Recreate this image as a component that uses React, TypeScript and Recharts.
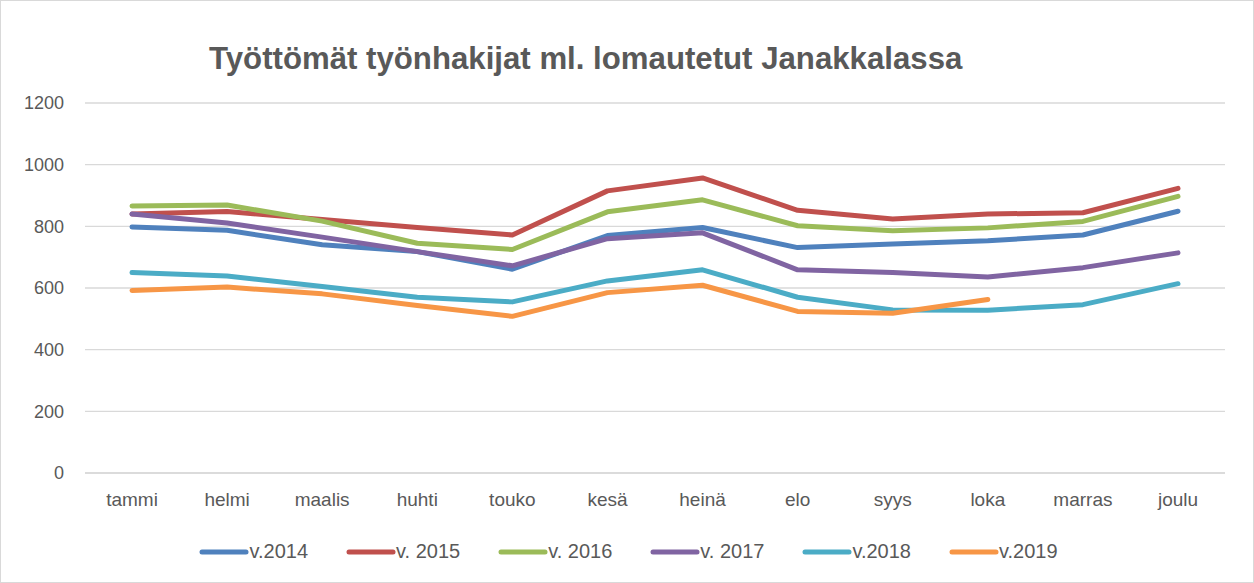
import React from 'react';
import { LineChart, Line, XAxis, YAxis, CartesianGrid, Legend } from 'recharts';

const months = ['tammi', 'helmi', 'maalis', 'huhti', 'touko', 'kesä', 'heinä', 'elo', 'syys', 'loka', 'marras', 'joulu'];

const y2014 = [798, 787, 740, 718, 661, 770, 796, 731, 743, 753, 772, 849];
const y2015 = [840, 848, 822, 796, 772, 915, 957, 852, 824, 840, 844, 923];
const y2016 = [866, 869, 817, 745, 725, 847, 886, 802, 786, 795, 816, 897];
const y2017 = [840, 811, 765, 718, 672, 760, 779, 659, 650, 636, 666, 714];
const y2018 = [650, 639, 605, 570, 555, 623, 659, 570, 529, 528, 546, 614];
const y2019 = [592, 603, 581, 543, 508, 585, 609, 524, 518, 563, null, null];

const yTicks = [0, 200, 400, 600, 800, 1000, 1200];

const series = [
  { key: 'v2014', name: 'v.2014', color: '#4F81BD', values: y2014 },
  { key: 'v2015', name: 'v. 2015', color: '#C0504D', values: y2015 },
  { key: 'v2016', name: 'v. 2016', color: '#9BBB59', values: y2016 },
  { key: 'v2017', name: 'v. 2017', color: '#8064A2', values: y2017 },
  { key: 'v2018', name: 'v.2018', color: '#4BACC6', values: y2018 },
  { key: 'v2019', name: 'v.2019', color: '#F79646', values: y2019 },
];

const data = months.map((m, i) => {
  const row: { [k: string]: string | number | null } = { month: m };
  series.forEach((s) => {
    row[s.key] = s.values[i];
  });
  return row;
});

const FONT = '"Liberation Sans", Arial, sans-serif';
const TEXT = '#595959';

const LegendContent = () => (
  <div style={{ display: 'flex', justifyContent: 'center', paddingLeft: 70 }}>
    {series.map((s) => (
      <div key={s.key} style={{ display: 'flex', alignItems: 'center', marginRight: 38 }}>
        <svg width={50} height={8}>
          <line x1={3} y1={4} x2={47} y2={4} stroke={s.color} strokeWidth={5} strokeLinecap="round" />
        </svg>
        <span style={{ fontFamily: FONT, fontSize: 20, color: TEXT }}>{s.name}</span>
      </div>
    ))}
  </div>
);

export default function App() {
  return (
    <div
      style={{
        position: 'absolute',
        left: 0,
        top: 0,
        width: 1254,
        height: 583,
        boxSizing: 'border-box',
        border: '1px solid #d9d9d9',
        background: '#fff',
      }}
    >
      <div
        style={{
          position: 'absolute',
          left: 208,
          top: 40,
          fontFamily: FONT,
          fontWeight: 'bold',
          fontSize: 31.2,
          color: TEXT,
          whiteSpace: 'nowrap',
        }}
      >
        Työttömät työnhakijat ml. lomautetut Janakkalassa
      </div>
      <div style={{ position: 'absolute', left: -1, top: -1 }}>
        <LineChart width={1254} height={583} data={data} margin={{ top: 103, right: 29, bottom: 39, left: 0 }}>
          <CartesianGrid vertical={false} stroke="#d9d9d9" strokeWidth={1.3} />
          <XAxis
            dataKey="month"
            axisLine={{ stroke: '#d9d9d9', strokeWidth: 1.3 }}
            tickLine={false}
            tick={{ fill: TEXT, fontSize: 19, fontFamily: FONT }}
            tickMargin={14}
            height={48}
            padding={{ left: 47, right: 47 }}
          />
          <YAxis
            domain={[0, 1200]}
            ticks={yTicks}
            axisLine={false}
            tickLine={false}
            width={85}
            tickMargin={15}
            tick={{ fill: TEXT, fontSize: 18, fontFamily: FONT }}
          />
          <Legend verticalAlign="bottom" content={<LegendContent />} wrapperStyle={{ bottom: 20 }} />
          {series.map((s) => (
            <Line
              key={s.key}
              dataKey={s.key}
              name={s.name}
              stroke={s.color}
              strokeWidth={5}
              strokeLinecap="round"
              strokeLinejoin="round"
              dot={false}
              activeDot={false}
              type="linear"
              isAnimationActive={false}
            />
          ))}
        </LineChart>
      </div>
    </div>
  );
}
